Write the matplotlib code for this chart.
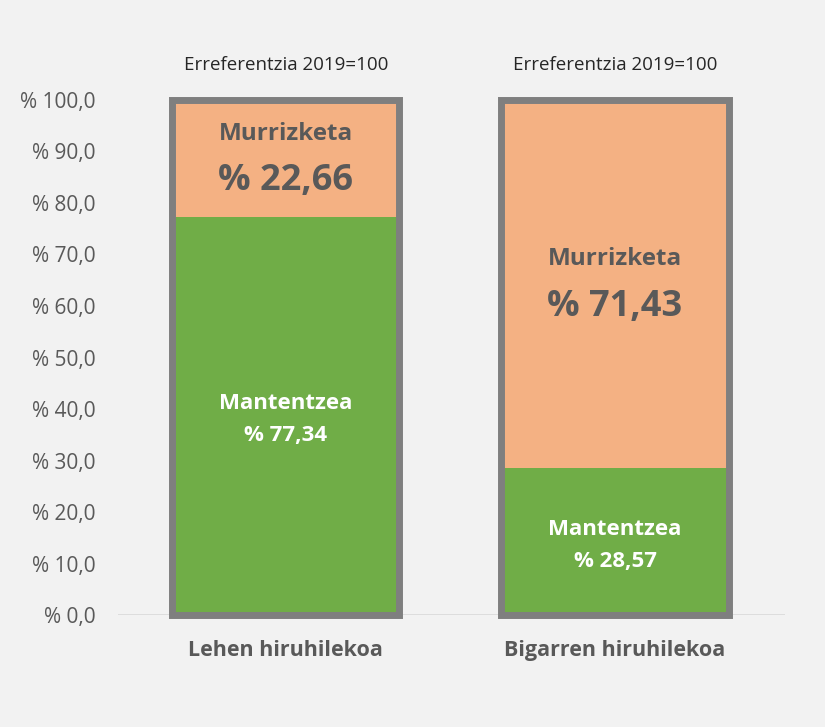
import matplotlib.pyplot as plt
import numpy as np

plt.rcParams["font.family"] = ["Open Sans", "DejaVu Sans"]

# data
categories = ["Lehen hiruhilekoa", "Bigarren hiruhilekoa"]
mantentzea = [77.34, 28.57]
murrizketa = [22.66, 71.43]
reference_note = "Erreferentzia 2019=100"
yticks = np.arange(0, 101, 10)

GREEN = "#70ad47"
ORANGE = "#f4b183"
BORDER = "#7f7f7f"
TEXT = "#595959"
BG = "#f2f2f2"

fig = plt.figure(figsize=(8.25, 7.27), dpi=100, facecolor=BG)
ax = fig.add_axes([0.143, 0.154, 0.808, 0.7085], facecolor=BG)

x = np.arange(len(categories))
width = 0.69

ax.bar(x, mantentzea, width, color=GREEN, zorder=2)
ax.bar(x, murrizketa, width, bottom=mantentzea, color=ORANGE, zorder=2)
totals = np.add(mantentzea, murrizketa)
ax.bar(x, totals, width, fill=False, edgecolor=BORDER, linewidth=5,
       zorder=3, clip_on=False)

ax.axhline(0, color="#d9d9d9", linewidth=1.2, zorder=1)

for i in x:
    # green segment labels
    gc = mantentzea[i] / 2
    ax.text(i, gc + 2.4, "Mantentzea", ha="center", va="center",
            color="white", fontsize=16, fontweight="bold", zorder=4)
    ax.text(i, gc - 3.9, f"% {mantentzea[i]:.2f}".replace(".", ","),
            ha="center", va="center", color="white", fontsize=16,
            fontweight="bold", zorder=4)
    # orange segment labels
    oc = mantentzea[i] + murrizketa[i] / 2
    ax.text(i, oc + 4.8, "Murrizketa", ha="center", va="center",
            color=TEXT, fontsize=17.5, fontweight="bold", zorder=4)
    ax.text(i, oc - 4.5, f"% {murrizketa[i]:.2f}".replace(".", ","),
            ha="center", va="center", color=TEXT, fontsize=26,
            fontweight="bold", zorder=4)
    ax.text(i, 106.8, reference_note, ha="center", va="center",
            color="#262626", fontsize=13.5, clip_on=False)

ax.set_xlim(-0.51, 1.515)
ax.set_ylim(0, 100)
ax.set_yticks(yticks)
ax.set_yticklabels([f"% {v:.1f}".replace(".", ",") for v in yticks],
                   color=TEXT, fontsize=15)
ax.set_xticks(x)
ax.set_xticklabels(categories, color=TEXT, fontsize=15.5, fontweight="bold")
ax.tick_params(axis="y", length=0, pad=16)
ax.tick_params(axis="x", length=0, pad=18)
for s in ax.spines.values():
    s.set_visible(False)

fig.savefig("out.png", dpi=100, facecolor=BG)
